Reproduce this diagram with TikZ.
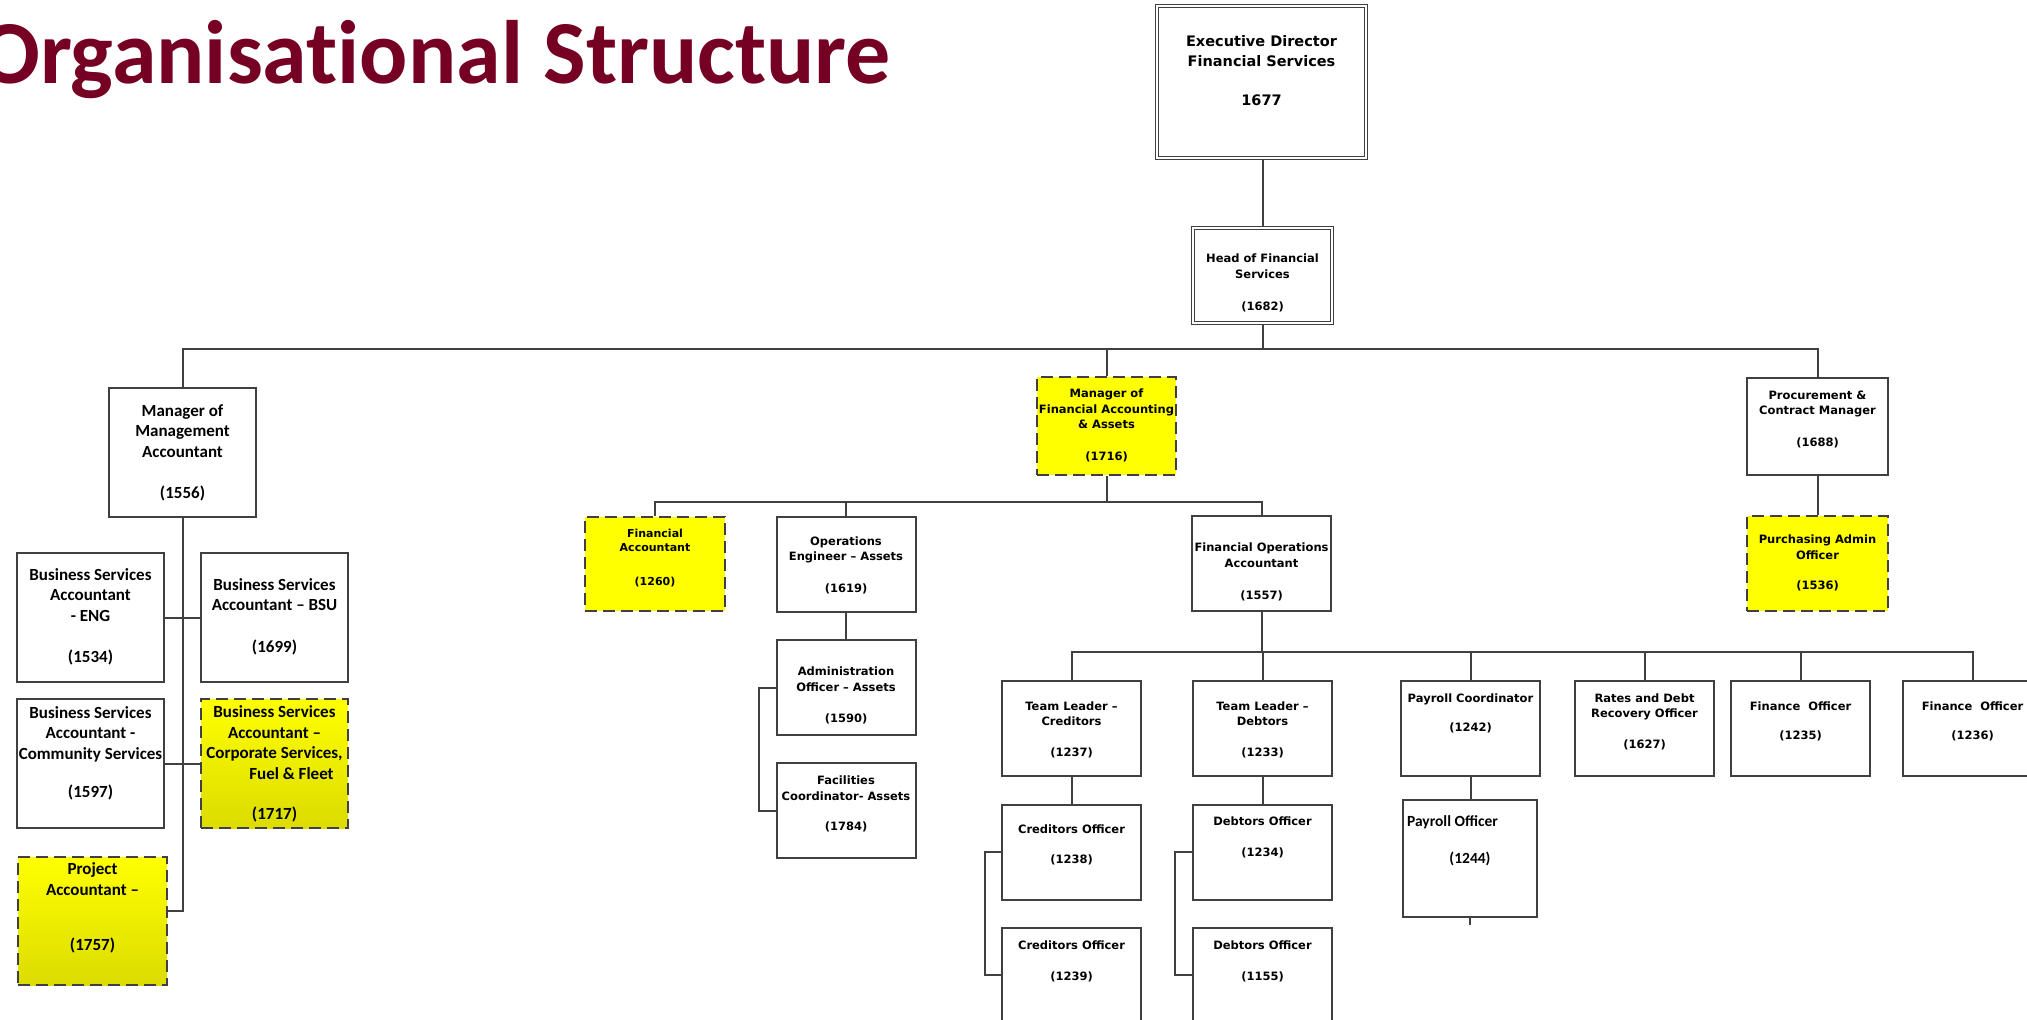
\documentclass[tikz,border=0pt]{standalone}
\usepackage{fontspec}
\setmainfont{DejaVu Sans}
\newfontfamily\calfont{Carlito}
\newfontfamily\titlefont[Ligatures=NoCommon]{Carlito}
\definecolor{linegray}{RGB}{64,64,64}
\definecolor{titlered}{RGB}{118,0,36}
\definecolor{vacyellow}{RGB}{255,255,0}
\tikzset{
  link/.style    = {draw=linegray, line width=2pt},
  post/.style    = {draw=linegray, line width=2pt, fill=white, inner sep=0pt,
                    minimum width=139pt, minimum height=95pt,
                    font=\fontsize{11.5}{15.5}\selectfont\bfseries},
  calpost/.style = {post, minimum width=147pt, minimum height=129pt,
                    font=\calfont\fontsize{17}{20.5}\selectfont\bfseries},
  toppost/.style = {post, double=white, double distance=1.8pt, line width=1.5pt},
  vacant/.style  = {fill=vacyellow, dash pattern=on 12pt off 6pt},
  fade/.style    = {top color=vacyellow, bottom color=vacyellow!86!black},
}
% text block of a post, raised by #1
\newcommand{\posttext}[2]{\makebox[0pt]{\raisebox{#1}[0pt][0pt]{\begin{tabular}{@{}c@{}}#2\end{tabular}}}}

\begin{document}
\begin{tikzpicture}[x=1pt,y=-1pt]
  \useasboundingbox (0,0) rectangle (2027,1020);

  \node[font=\titlefont\fontsize{90}{90}\selectfont\bfseries, text=titlered,
        anchor=base east, inner sep=0pt] (title) at (891,83) {Organisational Structure};

  % ---------------- top -------------------------------------------------
  \node[toppost, minimum width=209pt, minimum height=152pt,
        font=\fontsize{14.5}{20}\selectfont\bfseries] (ed) at (1261.5,82)
        {\posttext{6pt}{Executive Director\\Financial Services\\[19pt]1677}};
  \node[toppost] (hf) at (1262.5,275.5)
        {\posttext{-11pt}{Head of Financial\\Services\\[17pt](1682)}};

  % ---------------- management accounting -------------------------------
  \node[calpost] (mma) at (182.5,452.5)
        {\posttext{-5pt}{Manager of\\Management\\Accountant\\[21pt](1556)}};
  \node[calpost] (eng) at (90.5,617.5)
        {\posttext{-4pt}{Business Services\\Accountant\\- ENG\\[21pt](1534)}};
  \node[calpost] (bsu) at (274.5,617.5)
        {\posttext{-4pt}{Business Services\\Accountant – BSU\\[21pt](1699)}};
  \node[calpost] (cs) at (90.5,763.5)
        {\posttext{5.5pt}{Business Services\\Accountant -\\Community Services\\[18pt](1597)}};
  \node[calpost, vacant, fade] (csff) at (274.5,763.5)
        {\posttext{-5.5pt}{Business Services\\Accountant –\\Corporate Services,\\\hspace*{34pt}Fuel \& Fleet\\[20pt](1717)}};
  \node[calpost, vacant, fade, minimum width=149pt, minimum height=128pt] (pa) at (92.5,921)
        {\posttext{8pt}{Project\\Accountant –\\[35pt](1757)}};

  % ---------------- financial accounting --------------------------------
  \node[post, vacant, minimum height=98pt] (mfa) at (1106.5,426)
        {\posttext{-3pt}{Manager of\\Financial Accounting\\\& Assets\\[16pt](1716)}};
  \node[post, vacant, minimum width=140pt, minimum height=94pt,
        font=\fontsize{11}{14}\selectfont\bfseries] (fa) at (655,564)
        {\posttext{3pt}{Financial\\Accountant\\[20pt](1260)}};
  \node[post] (oe) at (846,564)
        {\posttext{-4.5pt}{Operations\\Engineer – Assets\\[16pt](1619)}};
  \node[post] (ao) at (846,687.5)
        {\posttext{-11.5pt}{Administration\\Officer – Assets\\[16pt](1590)}};
  \node[post] (fc) at (846,810.5)
        {\posttext{3pt}{Facilities\\Coordinator- Assets\\[15pt](1784)}};
  \node[post] (foa) at (1261.5,563)
        {\posttext{-12.5pt}{Financial Operations\\Accountant\\[17pt](1557)}};

  \node[post] (tlc) at (1071.5,728.5)
        {\posttext{-4.5pt}{Team Leader –\\Creditors\\[15pt](1237)}};
  \node[post] (tld) at (1262.5,728.5)
        {\posttext{-4.5pt}{Team Leader –\\Debtors\\[15pt](1233)}};
  \node[post] (pc) at (1470.5,728.5)
        {\posttext{11.5pt}{Payroll Coordinator\\[14pt](1242)}};
  \node[post] (rdr) at (1644.5,728.5)
        {\posttext{3.5pt}{Rates and Debt\\Recovery Officer\\[15pt](1627)}};
  \node[post] (fo1) at (1800.5,728.5)
        {\posttext{3.5pt}{Finance\ \ Officer\\[14pt](1235)}};
  \node[post] (fo2) at (1972.5,728.5)
        {\posttext{3.5pt}{Finance\ \ Officer\\[14pt](1236)}};

  \node[post] (co1) at (1071.5,852)
        {\posttext{3.5pt}{Creditors Officer\\[15pt](1238)}};
  \node[post] (co2) at (1071.5,975)
        {\posttext{10pt}{Creditors Officer\\[16pt](1239)}};
  \node[post] (do1) at (1262.5,852)
        {\posttext{11pt}{Debtors Officer\\[16pt](1234)}};
  \node[post] (do2) at (1262.5,975)
        {\posttext{10pt}{Debtors Officer\\[16pt](1155)}};
  \node[post, minimum width=134pt, minimum height=117pt,
        font=\calfont\fontsize{15.5}{19}\selectfont\bfseries] (po) at (1470,858.5)
        {\posttext{14pt}{\hspace*{-35pt}Payroll Officer\\[18pt](1244)}};

  % ---------------- procurement -----------------------------------------
  \node[post, minimum width=141pt, minimum height=97pt] (pm) at (1817.5,426.5)
        {\posttext{4pt}{Procurement \&\\Contract Manager\\[16pt](1688)}};
  \node[post, vacant, minimum width=141pt] (pao) at (1817.5,563.5)
        {\posttext{-3pt}{Purchasing Admin\\Officer\\[15pt](1536)}};

  % ---------------- connectors ------------------------------------------
  \coordinate (bus) at (0,349);
  \coordinate (subbus) at (0,502);
  \coordinate (teambus) at (0,652);
  \coordinate (pajoin) at (0,911);
  \coordinate (aoelbow) at (759,0);
  \coordinate (credelbow) at (985,0);
  \coordinate (debelbow) at (1175,0);
  \coordinate (postub) at (1470,925);

  \draw[link] (hf.north |- ed.south) -- (hf.north);
  \draw[link] (hf.south) -- (hf.south |- bus);
  \draw[link] (mma.north) -- (mma.north |- bus) -- (pm.north |- bus) -- (pm.north);
  \draw[link] (mfa.north) -- (mfa.north |- bus);
  \draw[link] (pm) -- (pao);

  \draw[link] (mma.south) -- (mma.south |- pajoin) -- (pajoin -| pa.east);
  \draw[link] (eng) -- (bsu);
  \draw[link] (cs) -- (csff);

  \draw[link] (mfa.south) -- (mfa.south |- subbus);
  \draw[link] (fa.north) -- (fa.north |- subbus) -- (foa.north |- subbus) -- (foa.north);
  \draw[link] (oe.north) -- (oe.north |- subbus);
  \draw[link] (oe) -- (ao);
  \draw[link] (ao.west) -- (ao.west -| aoelbow) |- (fc.west);

  \draw[link] (foa.south) -- (foa.south |- teambus);
  \draw[link] (tlc.north) -- (tlc.north |- teambus) -- (fo2.north |- teambus) -- (fo2.north);
  \foreach \n in {tld,pc,rdr,fo1}
    \draw[link] (\n.north) -- (\n.north |- teambus);
  \draw[link] (tlc) -- (co1);
  \draw[link] (tld) -- (do1);
  \draw[link] (pc.south) -- (pc.south |- po.north);
  \draw[link] (po.south) -- (postub);
  \draw[link] (co1.west) -- (co1.west -| credelbow) |- (co2.west);
  \draw[link] (do1.west) -- (do1.west -| debelbow) |- (do2.west);
\end{tikzpicture}
\end{document}
